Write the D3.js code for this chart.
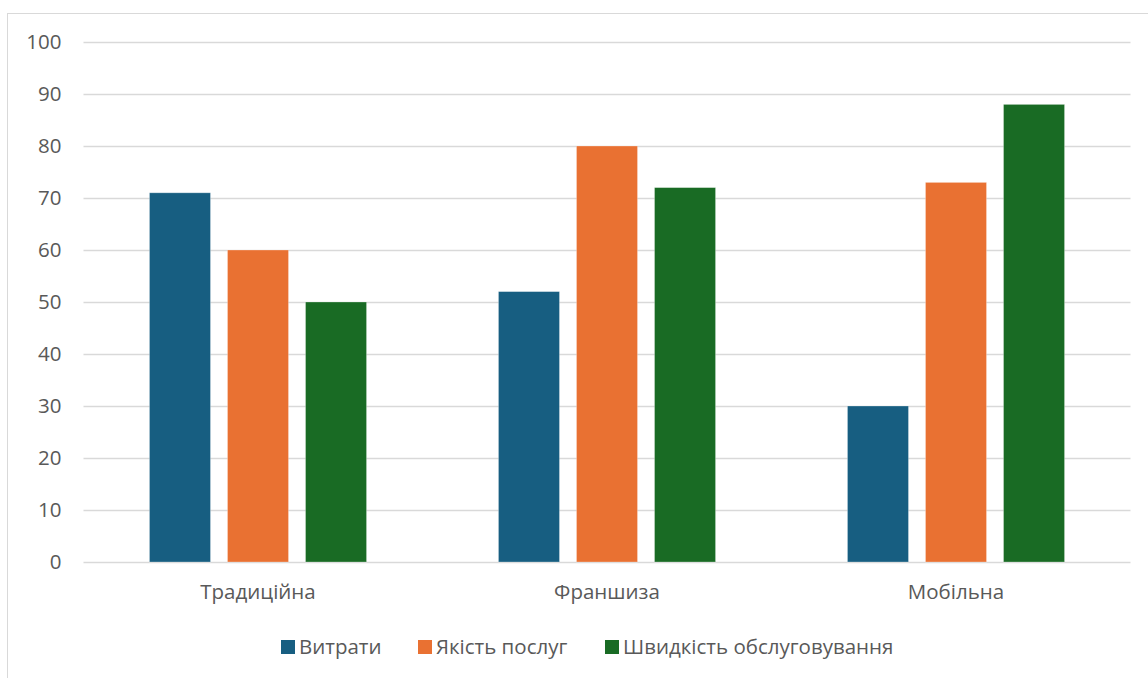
<!DOCTYPE html>
<html><head><meta charset="utf-8">
<script src="https://cdn.jsdelivr.net/npm/d3@7"></script>
<style>
html,body{margin:0;padding:0;background:#fff;}
text{font-family:"Open Sans",sans-serif;fill:#595959;}
</style></head>
<body>
<svg id="chart" width="1148" height="678"></svg>
<script>
const categories = ["Традиційна", "Франшиза", "Мобільна"];
const seriesNames = ["Витрати", "Якість послуг", "Швидкість обслуговування"];
const costs = [71, 52, 30];
const quality = [60, 80, 73];
const speed = [50, 72, 88];
const yTicks = [0, 10, 20, 30, 40, 50, 60, 70, 80, 90, 100];
const colors = ["#175E81", "#E97132", "#196B24"];

(function () {
const seriesValues = [costs, quality, speed];
const svg = d3.select("#chart");
const FS = 20.5;

// chart border
svg.append("rect").attr("x", 7.5).attr("y", 13.5).attr("width", 1160).attr("height", 700)
  .attr("fill", "none").attr("stroke", "#d9d9d9").attr("stroke-width", 1);

const mLeft = 83.5, mRight = 1130.5, mTop = 42, mBottom = 562;
const y = d3.scaleLinear().domain([0, 100]).range([mBottom, mTop]);
const x0 = d3.scaleBand().domain(categories).range([mLeft, mRight]).paddingInner(0.378).paddingOuter(0.189);
const x1 = d3.scaleBand().domain(seriesNames).range([0, x0.bandwidth()]).paddingInner(0.218).paddingOuter(0);

// gridlines
const yAxis = d3.axisLeft(y).tickValues(yTicks).tickSize(-(mRight - mLeft)).tickPadding(22);
const gy = svg.append("g").attr("transform", `translate(${mLeft},0)`).call(yAxis);
gy.select(".domain").remove();
gy.selectAll(".tick line").attr("stroke", "#d9d9d9").attr("stroke-width", 1.3);
gy.selectAll(".tick text").attr("font-size", FS).attr("font-family", "Open Sans").attr("fill", "#595959");

// bars
const groups = svg.append("g").selectAll("g").data(categories).join("g")
  .attr("transform", d => `translate(${x0(d)},0)`);
groups.selectAll("rect").data((c, ci) => seriesNames.map((s, si) => ({s, si, v: seriesValues[si][ci]})))
  .join("rect")
  .attr("x", d => x1(d.s))
  .attr("width", x1.bandwidth())
  .attr("y", d => y(d.v))
  .attr("height", d => y(0) - y(d.v))
  .attr("fill", d => colors[d.si])
  .attr("stroke", "rgba(255,255,255,0.35)")
  .attr("stroke-width", 0.8);

// x axis labels
const xAxis = d3.axisBottom(x0).tickSize(0).tickPadding(22);
const gx = svg.append("g").attr("transform", `translate(0,${mBottom})`).call(xAxis);
gx.select(".domain").remove();
gx.selectAll(".tick text").attr("font-size", FS).attr("font-family", "Open Sans").attr("fill", "#595959");

// legend
const legendX = [281, 418, 605];
const lg = svg.append("g").selectAll("g").data(seriesNames).join("g")
  .attr("transform", (d, i) => `translate(${legendX[i]},640)`);
lg.append("rect").attr("width", 14).attr("height", 14).attr("fill", (d, i) => colors[i]);
lg.append("text").attr("x", 18).attr("y", 7).attr("dy", "0.35em")
  .attr("font-size", FS).text(d => d);
})();
</script>
</body></html>
